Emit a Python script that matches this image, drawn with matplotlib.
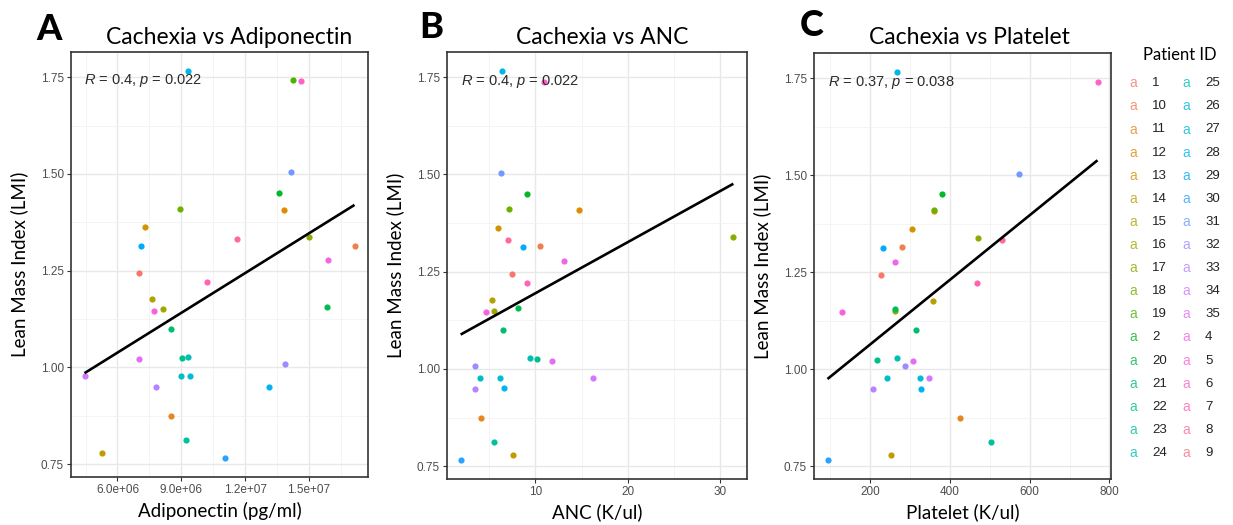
import numpy as np
import matplotlib
matplotlib.use("Agg")
import matplotlib.pyplot as plt
from matplotlib.ticker import MultipleLocator, FuncFormatter

nan = np.nan

# patients in factor (string-sorted) order
patient_ids = ["1", "10", "11", "12", "13", "14", "15", "16", "17", "18", "19",
               "2", "20", "21", "22", "23", "24", "25", "26", "27", "28", "29",
               "30", "31", "32", "33", "34", "35", "4", "5", "6", "7", "8", "9"]

lmi = [1.243, 1.315, 0.875, 1.408, 1.362, 0.780, 1.177, 1.150, 1.338, 1.410, 1.743,
       1.451, 1.156, 1.100, 1.025, 0.812, 1.028, 0.977, 0.977, 1.765, 0.950, 1.313,
       0.767, 1.504, 1.008, 0.949, 0.977, 1.021, 1.277, 1.147, 1.739, 1.221, 1.332, nan]

adiponectin = [7.03e6, 17.14e6, 8.50e6, 13.84e6, 7.29e6, 5.25e6, 7.64e6, 8.16e6, 15.0e6, 8.92e6, 14.27e6,
               13.58e6, 15.87e6, 8.50e6, 9.01e6, 9.20e6, 9.31e6, 9.00e6, 9.39e6, 9.33e6, 13.14e6, 7.125e6,
               11.03e6, 14.17e6, 13.86e6, 7.80e6, 4.45e6, 7.03e6, 15.89e6, 7.72e6, 14.64e6, 10.19e6, 11.63e6, nan]

anc = [7.43, 10.47, 4.14, 14.77, 5.95, 7.61, 5.30, 5.55, 31.44, 7.11, nan,
       9.10, 8.08, 6.49, 10.22, 5.52, 9.42, 3.96, 6.13, 6.42, 6.64, 8.63,
       1.90, 6.31, 3.42, 3.42, 16.26, 11.81, 13.07, 4.65, 10.98, 9.10, 7.04, nan]

platelet = [228, 280, 425, 361, 306, 254, 357, 264, 472, 361, nan,
            381, 262, 315, 217, 503, 267, 244, 326, 269, 328, 233,
            94, 574, 288, 208, 348, 307, 262, 131, 770, 469, 532, nan]

stats_text = [r"$R$ = 0.4, $p$ = 0.022", r"$R$ = 0.4, $p$ = 0.022", r"$R$ = 0.37, $p$ = 0.038"]


def hue_colors(n, c=100.0, l=65.0):
    """ggplot2 default discrete palette (polar Luv -> sRGB)."""
    hues = np.linspace(15, 375 - 360 / n, n)
    xn, yn, zn = 95.047, 100.0, 108.883
    un = 4 * xn / (xn + 15 * yn + 3 * zn)
    vn = 9 * yn / (xn + 15 * yn + 3 * zn)
    m = np.array([[3.2404542, -1.5371385, -0.4985314],
                  [-0.9692660, 1.8760108, 0.0415560],
                  [0.0556434, -0.2040259, 1.0572252]])
    out = []
    for h in hues:
        u = c * np.cos(np.radians(h))
        v = c * np.sin(np.radians(h))
        y = yn * ((l + 16) / 116) ** 3
        up = u / (13 * l) + un
        vp = v / (13 * l) + vn
        x = 9 * y * up / (4 * vp)
        z = y * (12 - 3 * up - 20 * vp) / (4 * vp)
        rgb = m @ (np.array([x, y, z]) / 100)
        rgb = np.where(rgb > 0.0031308, 1.055 * np.abs(rgb) ** (1 / 2.4) - 0.055, 12.92 * rgb)
        out.append(tuple(np.clip(rgb, 0, 1)))
    return out


colors = hue_colors(len(patient_ids))

plt.rcParams["font.family"] = ["Liberation Sans", "DejaVu Sans"]
plt.rcParams["mathtext.fontset"] = "custom"
plt.rcParams["mathtext.it"] = "Liberation Sans:italic"
plt.rcParams["mathtext.rm"] = "Liberation Sans"

W, H = 1233, 525
fig = plt.figure(figsize=(W / 100, H / 100), dpi=100)

panels = [
    dict(x=adiponectin, title="Cachexia vs Adiponectin", xlabel="Adiponectin (pg/ml)", letter="A",
         box=(71, 52, 368, 477), title_x=229, letter_xy=(36, 30), major=3e6, minor=1.5e6,
         fmt=lambda v, p: f"{v:.1e}"),
    dict(x=anc, title="Cachexia vs ANC", xlabel="ANC (K/ul)", letter="B",
         box=(447, 52, 747, 479), title_x=602, letter_xy=(419, 28), major=10, minor=5,
         fmt=lambda v, p: f"{v:.0f}"),
    dict(x=platelet, title="Cachexia vs Platelet", xlabel="Platelet (K/ul)", letter="C",
         box=(814, 53, 1111, 479), title_x=969, letter_xy=(800, 26), major=200, minor=100,
         fmt=lambda v, p: f"{v:.0f}"),
]

label_font = ["Lato", "DejaVu Sans"]

for i, pn in enumerate(panels):
    l, t, r, b = pn["box"]
    ax = fig.add_axes([l / W, 1 - b / H, (r - l) / W, (b - t) / H])
    xs = np.array(pn["x"], dtype=float)
    ys = np.array(lmi, dtype=float)
    ok = ~np.isnan(xs) & ~np.isnan(ys)

    for xv, yv, col, good in zip(xs, ys, colors, ok):
        if good:
            ax.scatter(xv, yv, s=20, color=col, linewidths=0, zorder=3)

    # least squares fit over the observed range
    slope, icpt = np.polyfit(xs[ok], ys[ok], 1)
    xr = np.array([xs[ok].min(), xs[ok].max()])
    ax.plot(xr, slope * xr + icpt, color="black", lw=1.9, zorder=4, solid_capstyle="butt")

    xspan = xr[1] - xr[0]
    ax.set_xlim(xr[0] - 0.05 * xspan, xr[1] + 0.05 * xspan)
    ymin, ymax = ys[ok].min(), ys[ok].max()
    yspan = ymax - ymin
    ax.set_ylim(ymin - 0.05 * yspan, ymax + 0.05 * yspan)

    ax.text(xr[0], 1.74, stats_text[i], fontsize=10.5, color="#2b2b2b",
            ha="left", va="center", zorder=5)

    ax.xaxis.set_major_locator(MultipleLocator(pn["major"]))
    ax.xaxis.set_minor_locator(MultipleLocator(pn["minor"]))
    ax.xaxis.set_major_formatter(FuncFormatter(pn["fmt"]))
    ax.yaxis.set_major_locator(MultipleLocator(0.25))
    ax.yaxis.set_minor_locator(MultipleLocator(0.125))
    ax.yaxis.set_major_formatter(FuncFormatter(lambda v, p: f"{v:.2f}"))

    ax.grid(which="major", color="#E8E8E8", lw=1.0, zorder=0)
    ax.grid(which="minor", color="#F2F2F2", lw=0.6, zorder=0)
    ax.set_axisbelow(True)
    ax.tick_params(which="major", length=3, width=0.8, color="#333333",
                   labelsize=8.5, labelcolor="#4D4D4D", pad=2)
    ax.tick_params(which="minor", length=0)
    for sp in ax.spines.values():
        sp.set_color("#333333")
        sp.set_linewidth(1.2)

    ax.set_xlabel(pn["xlabel"], fontsize=13.5, family=label_font, labelpad=4)
    ax.set_ylabel("Lean Mass Index (LMI)", fontsize=13.5, family=label_font)
    ax.yaxis.set_label_coords(-43 / (r - l), 0.5)

    fig.text(pn["title_x"] / W, 1 - 38 / H, pn["title"], fontsize=16.5, family=label_font,
             ha="center", va="center")
    fig.text(pn["letter_xy"][0] / W, 1 - pn["letter_xy"][1] / H, pn["letter"], fontsize=26,
             family=label_font, weight="black", ha="left", va="center")

# two-column legend of patient IDs
fig.text(1180 / W, 1 - 55 / H, "Patient ID", fontsize=12, family=label_font,
         ha="center", va="center")
rows = 17
for k, (pid, col) in enumerate(zip(patient_ids, colors)):
    cx = 1133 if k < rows else 1186
    cy = 83.3 + (k % rows) * 23.1
    fig.text(cx / W, 1 - cy / H, "a", fontsize=10, color=col, alpha=0.8,
             ha="center", va="center")
    fig.text((cx + 19) / W, 1 - cy / H, pid, fontsize=9.5, color="#222222",
             ha="left", va="center")

fig.savefig("out.png", dpi=100)
